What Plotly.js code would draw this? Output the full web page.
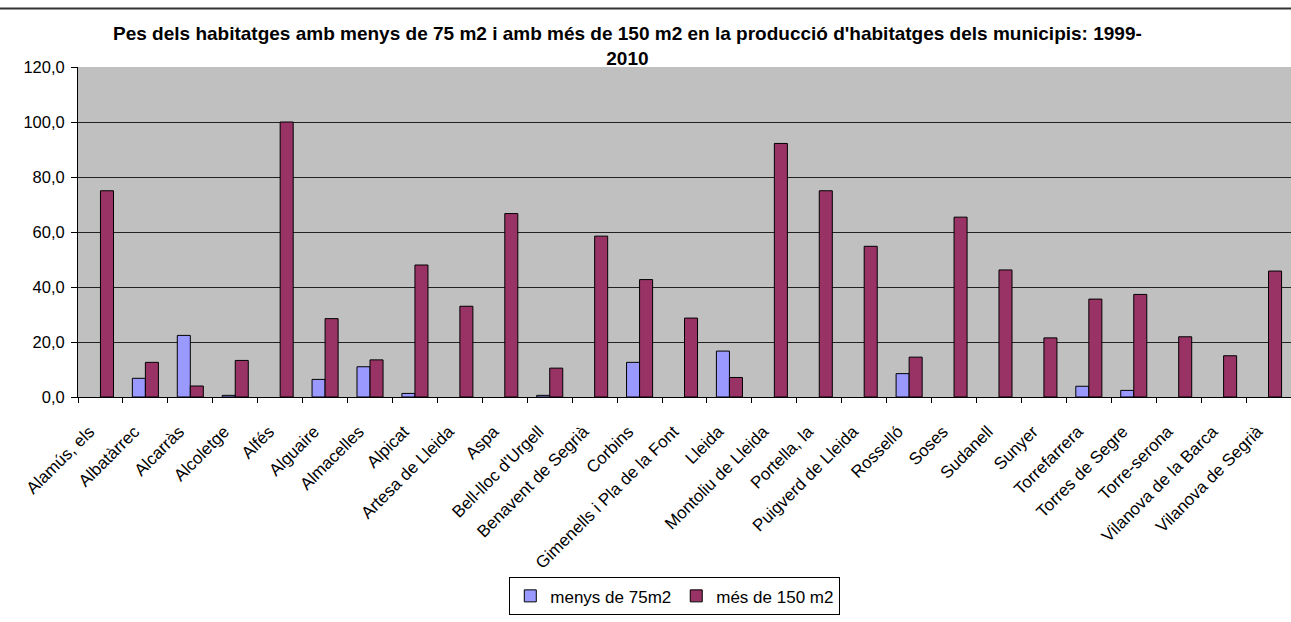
<!DOCTYPE html>
<html>
<head>
<meta charset="utf-8">
<script src="https://cdn.plot.ly/plotly-3.0.1.min.js"></script>
<style>html,body{margin:0;padding:0;background:#fff;}#chart{width:1291px;height:622px;}</style>
</head>
<body>
<div id="chart"></div>
<script>
const municipis = ["Alamús, els","Albatàrrec","Alcarràs","Alcoletge","Alfés","Alguaire","Almacelles","Alpicat","Artesa de Lleida","Aspa","Bell-lloc d'Urgell","Benavent de Segrià","Corbins","Gimenells i Pla de la Font","Lleida","Montoliu de Lleida","Portella, la","Puigverd de Lleida","Rosselló","Soses","Sudanell","Sunyer","Torrefarrera","Torres de Segre","Torre-serona","Vilanova de la Barca","Vilanova de Segrià"];
const menys75 = [null,6.8,22.4,0.6,null,6.4,11.0,1.3,null,null,0.6,null,12.6,null,16.7,null,null,null,8.5,null,null,null,3.9,2.4,null,null,null];
const mes150 = [75.0,12.6,4.0,13.3,100.0,28.5,13.5,48.0,33.0,66.7,10.5,58.5,42.7,28.7,7.1,92.2,75.0,54.8,14.5,65.4,46.2,21.5,35.6,37.3,21.9,15.0,45.8];
const serieNames = ["menys de 75m2","més de 150 m2"];
const titleText = "Pes dels habitatges amb menys de 75 m2 i amb més de 150 m2 en la producció d'habitatges dels municipis: 1999-<br>2010";

const font = "Liberation Sans, Arial, sans-serif";
const data = [
  {type:'bar', name:serieNames[0], x:municipis, y:menys75,
   marker:{color:'#9999FF', line:{color:'#000', width:1}}},
  {type:'bar', name:serieNames[1], x:municipis, y:mes150,
   marker:{color:'#993366', line:{color:'#000', width:1}}}
];
const layout = {
  width:1291, height:622,
  margin:{l:78, r:0, t:67, b:225, pad:0},
  paper_bgcolor:'#fff', plot_bgcolor:'#C0C0C0',
  font:{family:font, size:16, color:'#000'},
  separators:',.',
  barmode:'group', bargap:0.42, bargroupgap:0,
  title:{text:titleText, font:{family:font, size:19, color:'#000', weight:'bold'},
         x:0.486, xanchor:'center', y:0.935, yanchor:'middle', yref:'container'},
  xaxis:{type:'category', tickangle:-45, tickson:'boundaries', ticks:'outside', ticklen:5,
         tickcolor:'#000', showline:true, linecolor:'#000', linewidth:1, showgrid:false,
         ticklabelstandoff:17, ticklabelshift:-11,
         tickfont:{family:font, size:17, color:'#000'}},
  yaxis:{range:[0,120], dtick:20, tickformat:'.1f', ticks:'outside', ticklen:6, tickcolor:'#000',
         showline:true, linecolor:'#000', linewidth:1, showgrid:true, gridcolor:'#222', gridwidth:1,
         zeroline:false, ticklabelstandoff:3, tickfont:{family:font, size:16.5, color:'#000'}},
  legend:{orientation:'h', x:0.492, xanchor:'center', y:-0.604, yanchor:'middle',
          bordercolor:'#000', borderwidth:1, bgcolor:'#fff', itemwidth:30,
          font:{family:font, size:17, color:'#000'}},
  shapes:[{type:'line', xref:'paper', yref:'paper', x0:-0.07, x1:1.0, y0:1.1776, y1:1.1776,
           line:{color:'#333', width:2}}],
  showlegend:true
};
Plotly.newPlot('chart', data, layout, {displayModeBar:false, staticPlot:true});
</script>
</body>
</html>
